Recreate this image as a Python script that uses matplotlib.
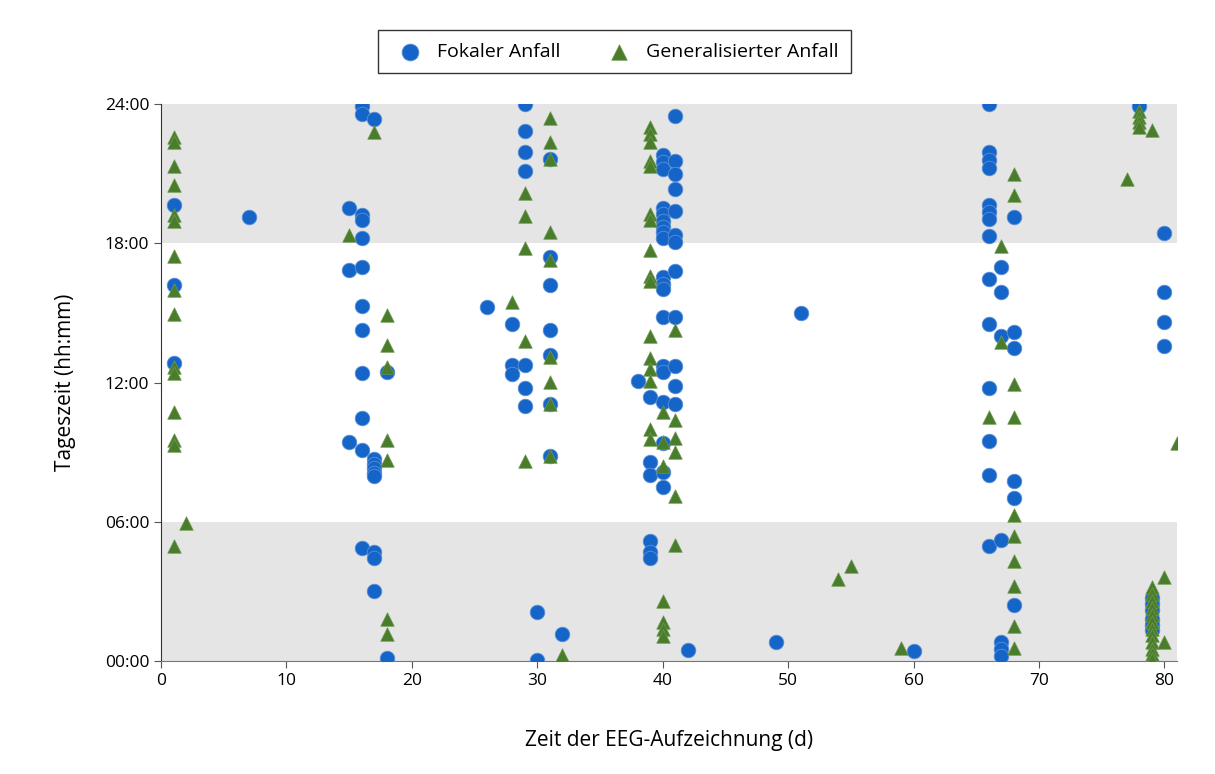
import matplotlib
matplotlib.use("Agg")
import matplotlib.pyplot as plt

# Fokale Anfaelle: Tag der Aufzeichnung und Uhrzeit (Stunden)
fokal_tag = [1, 1, 1,
             7,
             15, 15, 15,
             16, 16, 16, 16, 16, 16, 16, 16, 16, 16, 16, 16,
             17, 17, 17, 17, 17, 17, 17, 17, 17,
             18, 18,
             26,
             28, 28, 28,
             29, 29, 29, 29, 29, 29, 29,
             30, 30,
             31, 31, 31, 31, 31, 31, 31,
             32,
             38,
             39, 39, 39, 39, 39, 39,
             40, 40, 40, 40, 40, 40, 40, 40, 40, 40, 40, 40, 40, 40, 40, 40, 40, 40, 40,
             41, 41, 41, 41, 41, 41, 41, 41, 41, 41, 41, 41,
             42, 49, 51, 60,
             66, 66, 66, 66, 66, 66, 66, 66, 66, 66, 66, 66, 66, 66,
             67, 67, 67, 67, 67, 67, 67,
             68, 68, 68, 68, 68, 68,
             78,
             79, 79, 79, 79, 79, 79,
             80, 80, 80, 80]
fokal_h = [19.63, 16.21, 12.83,
           19.12,
           19.51, 16.84, 9.43,
           23.91, 23.55, 19.22, 19.01, 18.22, 16.97, 15.29, 14.28, 12.40, 10.46, 9.09, 4.86,
           23.36, 8.7, 8.5, 8.3, 8.1, 7.95, 4.69, 4.44, 3.03,
           12.44, 0.12,
           15.24,
           14.53, 12.76, 12.37,
           24.0, 22.83, 21.95, 21.13, 12.76, 11.75, 11.0,
           2.13, 0.06,
           21.61, 17.4, 16.21, 14.28, 13.19, 11.08, 8.85,
           1.16,
           12.08,
           11.37, 8.56, 8.02, 5.19, 4.71, 4.43,
           21.81, 21.49, 21.21, 19.53, 19.27, 18.98, 18.72, 18.48, 18.22, 16.54, 16.25, 16.03,
           14.81, 12.7, 12.44, 11.15, 9.4, 8.13, 7.49,
           23.5, 21.56, 20.99, 20.34, 19.41, 18.36, 18.05, 16.82, 14.81, 12.7, 11.85, 11.08,
           0.47, 0.8, 15.0, 0.44,
           24.0, 21.95, 21.59, 21.24, 19.63, 19.34, 19.05, 18.3, 16.44, 14.53, 11.76, 9.5, 8.03, 4.97,
           16.97, 15.92, 14.02, 5.22, 0.8, 0.52, 0.23,
           19.12, 14.19, 13.48, 7.77, 7.01, 2.41,
           23.91,
           2.7, 2.45, 2.2, 1.8, 1.55, 1.35,
           18.43, 15.92, 14.6, 13.59]

# Generalisierte Anfaelle
gen_tag = [1, 1, 1, 1, 1, 1, 1, 1, 1, 1, 1, 1, 1, 1, 1,
           2, 15, 17,
           18, 18, 18, 18, 18, 18, 18,
           28,
           29, 29, 29, 29, 29,
           31, 31, 31, 31, 31, 31, 31, 31, 31,
           32,
           39, 39, 39, 39, 39, 39, 39, 39, 39, 39, 39, 39, 39, 39, 39, 39,
           40, 40, 40, 40, 40, 40, 40,
           41, 41, 41, 41, 41, 41,
           54, 55, 59,
           66,
           67, 67,
           68, 68, 68, 68, 68, 68, 68, 68, 68, 68,
           77,
           78, 78, 78, 78,
           79, 79, 79, 79, 79, 79, 79, 79, 79, 79, 79, 79, 79,
           80, 80,
           81]
gen_h = [22.57, 22.36, 21.35, 20.52, 19.22, 18.98, 17.44, 15.99, 14.96, 12.66, 12.41, 10.72, 9.53, 9.31, 4.97,
         5.93, 18.36, 22.79,
         14.93, 13.63, 12.66, 9.53, 8.68, 1.81, 1.16,
         15.49,
         20.17, 19.17, 17.79, 13.78, 8.63,
         23.39, 22.38, 21.65, 18.48, 17.3, 13.1, 12.04, 11.08, 8.85,
         0.26,
         23.0, 22.72, 22.36, 21.56, 21.32, 19.27, 19.02, 17.69, 16.61, 16.39, 14.0, 13.05, 12.59, 12.08, 10.0, 9.57,
         10.75, 9.45, 8.39, 2.6, 1.67, 1.38, 1.09,
         14.28, 10.4, 9.61, 9.0, 7.1, 5.01,
         3.53, 4.08, 0.55,
         10.5,
         17.9, 13.74,
         20.99, 20.06, 11.94, 10.5, 6.29, 5.4, 4.32, 3.22, 1.5, 0.55,
         20.78,
         23.68, 23.43, 23.22, 23.0,
         22.9, 3.2, 2.9, 2.6, 2.3, 2.0, 1.7, 1.4, 1.1, 0.8, 0.5, 0.3, 0.1,
         3.61, 0.83,
         9.38]

y_ticks = [0, 6, 12, 18, 24]
y_labels = ["00:00", "06:00", "12:00", "18:00", "24:00"]
x_ticks = [0, 10, 20, 30, 40, 50, 60, 70, 80]

plt.rcParams['font.family'] = ['Open Sans', 'DejaVu Sans']

fig = plt.figure(figsize=(12.15, 7.74), dpi=100)
ax = fig.add_axes([0.1325, 0.146, 0.8362, 0.7196])

# Nachtbereiche grau hinterlegen
ax.axhspan(0, 6, color="#e5e5e5", zorder=0, lw=0)
ax.axhspan(18, 24, color="#e5e5e5", zorder=0, lw=0)

ax.scatter(fokal_tag, fokal_h, s=110, marker="o", color="#1565c8",
           edgecolors="#5b8fd6", linewidths=0.6, label="Fokaler Anfall", zorder=3)
ax.scatter(gen_tag, gen_h, s=95, marker="^", color="#4a7d2b",
           edgecolors="#6e9a50", linewidths=0.5, label="Generalisierter Anfall", zorder=4)

ax.set_xlim(0, 81)
ax.set_ylim(0, 24)
ax.set_xticks(x_ticks)
ax.set_yticks(y_ticks)
ax.set_yticklabels(y_labels)
ax.tick_params(labelsize=12.5, length=5, color="#555555")
ax.set_xlabel("Zeit der EEG-Aufzeichnung (d)", fontsize=15, labelpad=30)
ax.set_ylabel("Tageszeit (hh:mm)", fontsize=15, labelpad=21)

ax.spines["top"].set_visible(False)
ax.spines["right"].set_visible(False)
ax.spines["left"].set_color("#333333")
ax.spines["bottom"].set_color("#777777")
ax.margins(0)

leg = fig.legend(loc="upper center", bbox_to_anchor=(0.506, 0.961), ncol=2,
                 fontsize=14, frameon=True, fancybox=False, edgecolor="black",
                 handletextpad=0.4, columnspacing=2.0, borderpad=0.65,
                 borderaxespad=0, markerscale=1.15)
leg.get_frame().set_linewidth(1.0)

fig.savefig("out.png", dpi=100)
